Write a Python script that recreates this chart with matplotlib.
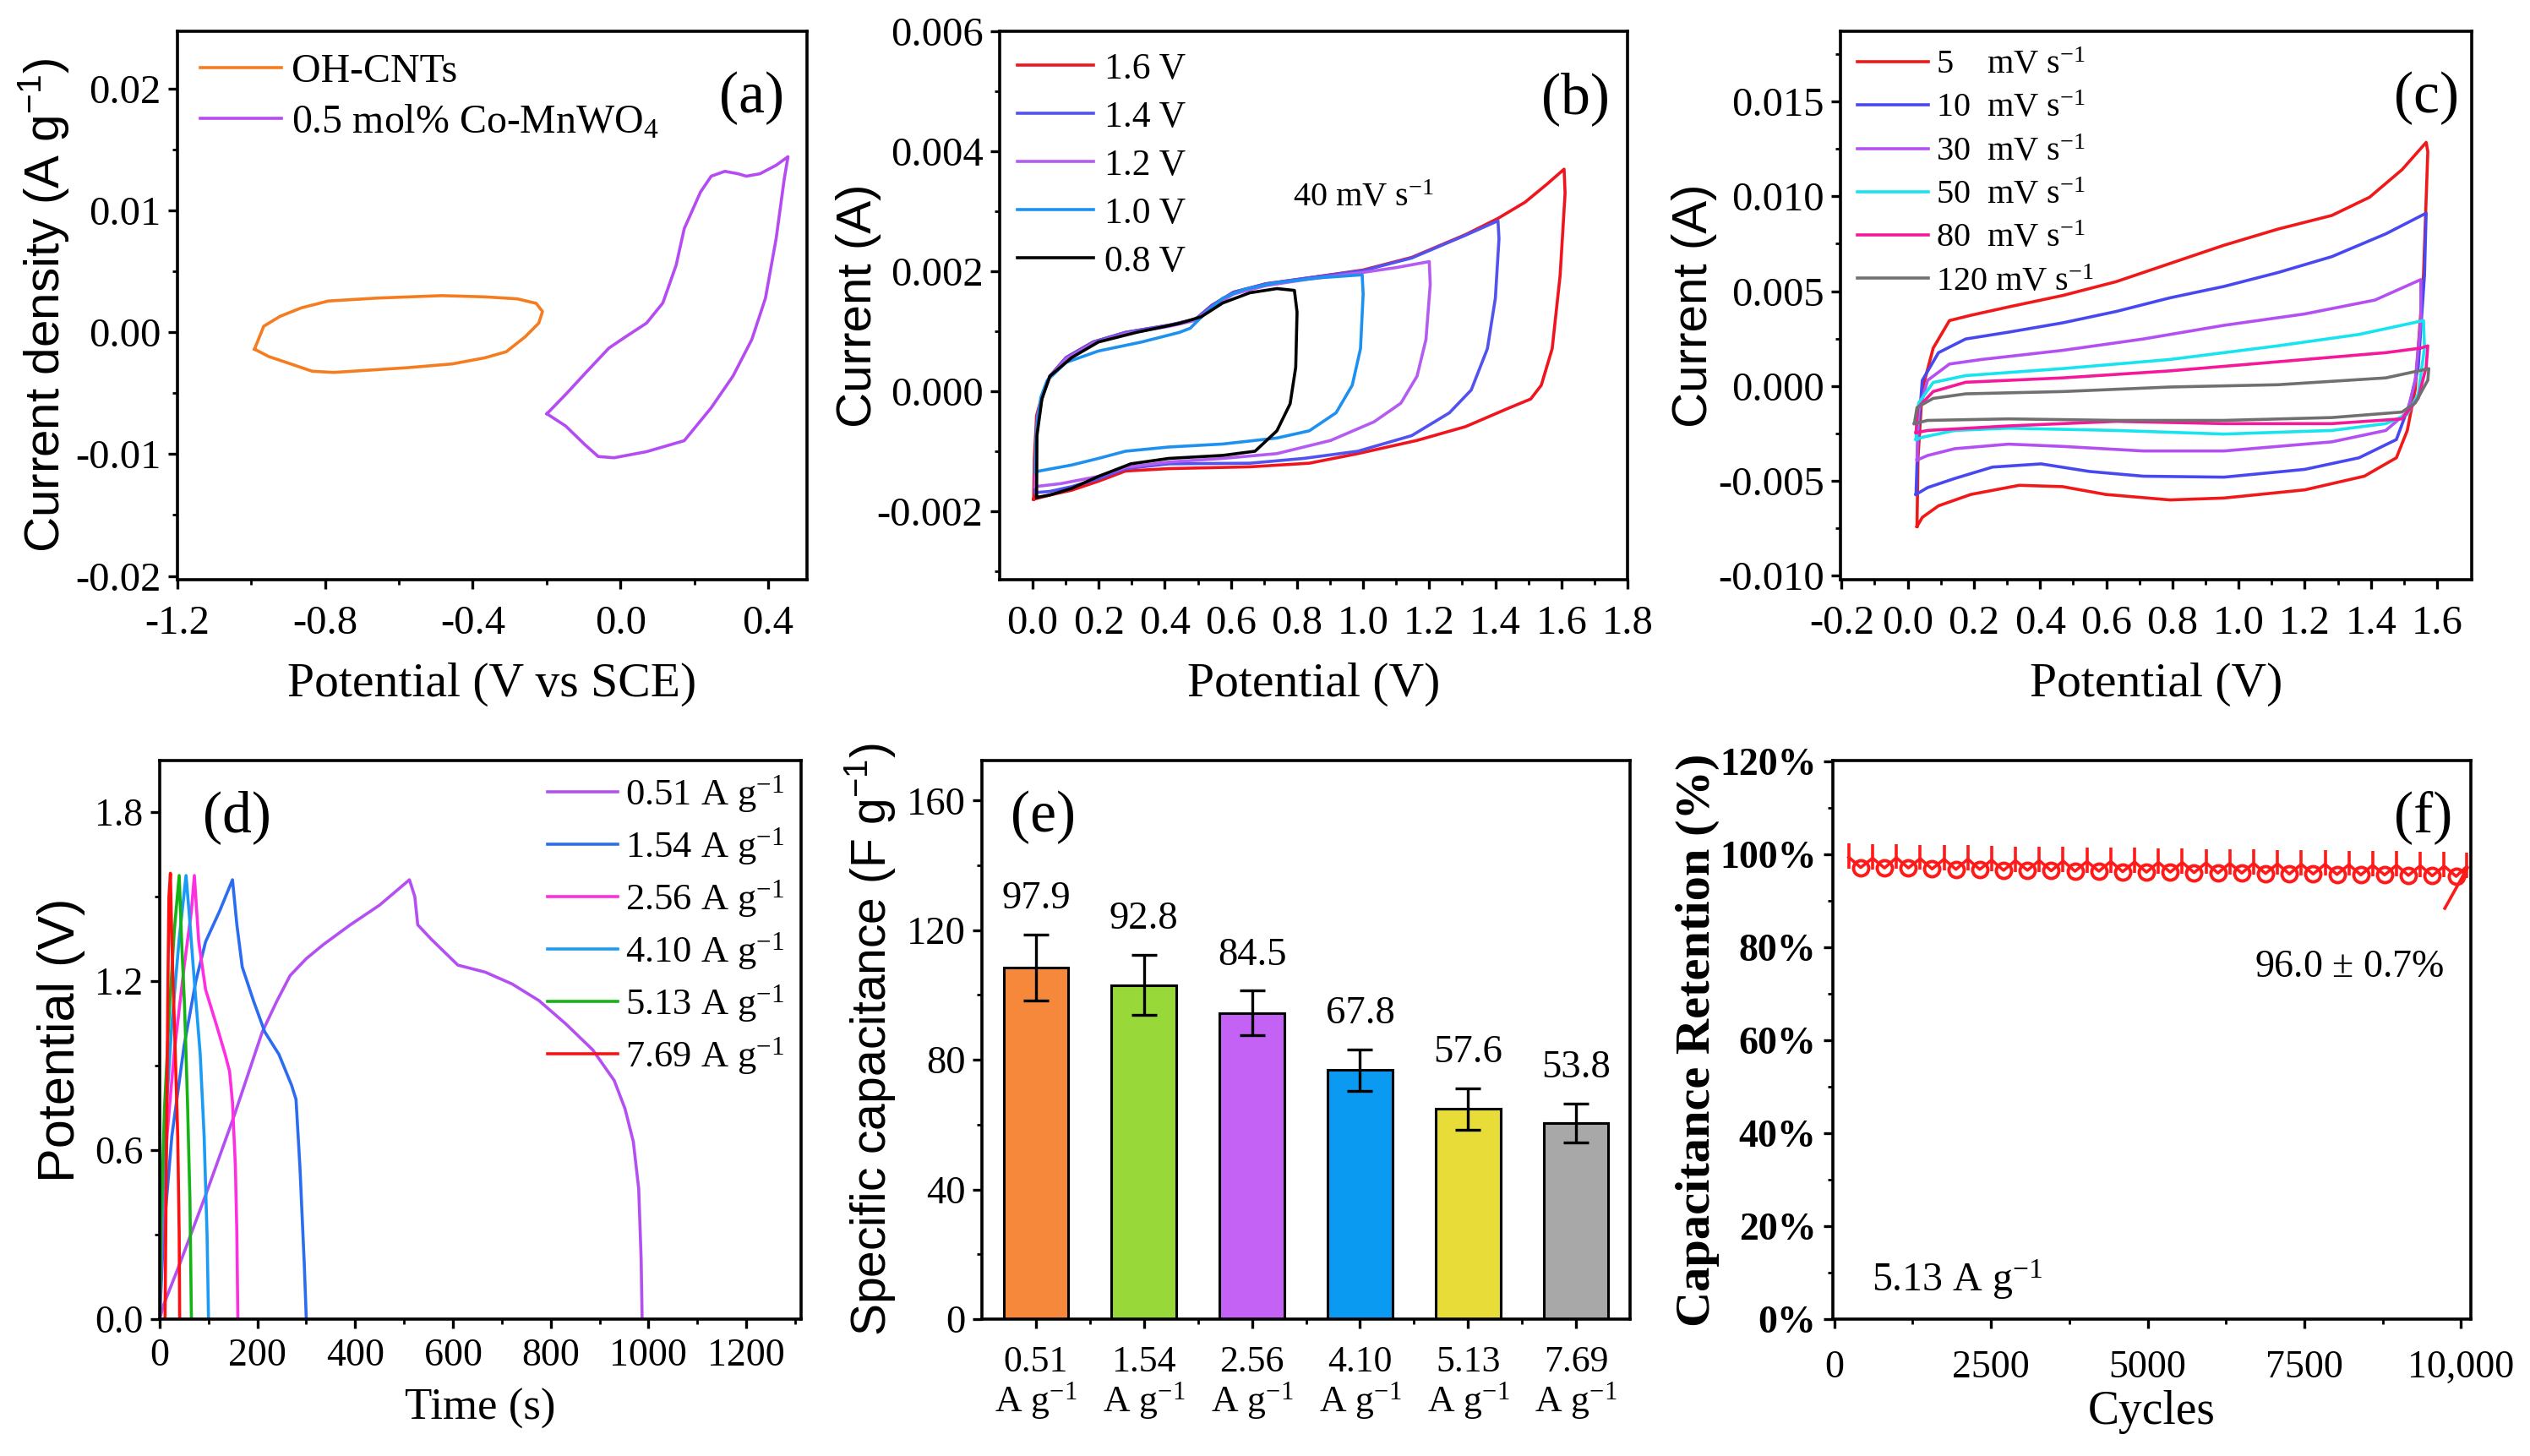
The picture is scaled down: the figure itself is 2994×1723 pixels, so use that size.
import matplotlib
matplotlib.use('Agg')
import matplotlib.pyplot as plt
from matplotlib.ticker import FixedLocator, FixedFormatter
import numpy as np

plt.rcParams['font.family'] = ['Liberation Serif', 'DejaVu Serif']
plt.rcParams['axes.unicode_minus'] = False
plt.rcParams['mathtext.default'] = 'regular'

SANS = ['Liberation Sans', 'DejaVu Sans']

# ---------------- data: panel (a) ----------------
cnt_E = [-0.991, -0.966, -0.922, -0.864, -0.791, -0.659, -0.484, -0.367, -0.28, -0.228, -0.211, -0.221,
         -0.258, -0.309, -0.367, -0.455, -0.572, -0.776, -0.835, -0.893, -0.952, -0.991]
cnt_J = [-0.00139, 0.00049, 0.0013, 0.002, 0.00256, 0.0028, 0.003, 0.0029, 0.00274, 0.00237, 0.0017, 0.00075,
         -0.00038, -0.0016, -0.0021, -0.0026, -0.0029, -0.0033, -0.0032, -0.0026, -0.002, -0.00139]
co_E = [-0.199, -0.148, -0.09, -0.031, 0.013, 0.071, 0.115, 0.151, 0.173, 0.217, 0.246, 0.283, 0.319, 0.341,
        0.378, 0.422, 0.454, 0.444, 0.422, 0.393, 0.356, 0.305, 0.246, 0.173, 0.071, -0.017, -0.06, -0.097,
        -0.148, -0.199]
co_J = [-0.00669, -0.0051, -0.0032, -0.0013, -0.0004, 0.00075, 0.0024, 0.0055, 0.0085, 0.0115, 0.0128, 0.0132,
        0.013, 0.0128, 0.013, 0.0137, 0.0144, 0.0126, 0.0077, 0.0028, -0.0006, -0.0036, -0.0062, -0.0089,
        -0.0098, -0.0103, -0.0102, -0.0092, -0.0077, -0.00669]
a_labels = ['OH-CNTs', '0.5 mol% Co-MnWO$_4$']

# ---------------- data: panel (b) ----------------
b_labels = ['1.6 V', '1.4 V', '1.2 V', '1.0 V', '0.8 V']
b16_E = [0.003, 0.005, 0.012, 0.03, 0.052, 0.101, 0.183, 0.281, 0.412, 0.493, 0.542, 0.608, 0.706, 0.837, 1.0,
         1.147, 1.31, 1.408, 1.49, 1.556, 1.608, 1.611, 1.596, 1.572, 1.539, 1.507, 1.441, 1.31, 1.163, 0.984,
         0.837, 0.657, 0.412, 0.281, 0.199, 0.118, 0.052, 0.003]
b16_I = [-0.0018, -0.00112, -0.0004, -0.00005, 0.00025, 0.00056, 0.00082, 0.00098, 0.0011, 0.0012, 0.00143,
         0.00165, 0.00179, 0.00189, 0.00202, 0.00223, 0.00261, 0.00288, 0.00315, 0.00345, 0.0037, 0.0033,
         0.00193, 0.00071, 0.0001, -0.00013, -0.00028, -0.00059, -0.00082, -0.00104, -0.0012, -0.00126,
         -0.00129, -0.00133, -0.0015, -0.00165, -0.00173, -0.0018]
b14_E = [0.007, 0.009, 0.015, 0.032, 0.052, 0.101, 0.183, 0.281, 0.412, 0.493, 0.542, 0.608, 0.706, 0.837, 1.0,
         1.147, 1.31, 1.408, 1.411, 1.40, 1.376, 1.327, 1.261, 1.147, 0.984, 0.82, 0.657, 0.412, 0.281, 0.199,
         0.118, 0.052, 0.007]
b14_I = [-0.00169, -0.0011, -0.0004, -0.00004, 0.00025, 0.00056, 0.00082, 0.00098, 0.0011, 0.0012, 0.00143,
         0.00165, 0.00179, 0.00189, 0.00201, 0.00222, 0.0026, 0.00284, 0.00254, 0.00155, 0.00071, 0.00002,
         -0.00036, -0.00074, -0.001, -0.00112, -0.0012, -0.00121, -0.00129, -0.00146, -0.00159, -0.00167,
         -0.00169]
b12_E = [0.007, 0.009, 0.015, 0.032, 0.052, 0.101, 0.183, 0.281, 0.412, 0.493, 0.542, 0.608, 0.706, 0.837, 1.0,
         1.1, 1.2, 1.203, 1.19, 1.163, 1.114, 1.033, 0.902, 0.739, 0.575, 0.412, 0.281, 0.199, 0.085, 0.007]
b12_I = [-0.00159, -0.0011, -0.0004, -0.00004, 0.00024, 0.00054, 0.0008, 0.00096, 0.00108, 0.00118, 0.0014,
         0.00162, 0.00176, 0.00187, 0.00198, 0.00206, 0.00216, 0.00178, 0.00086, 0.00025, -0.0002, -0.00051,
         -0.00082, -0.00104, -0.00112, -0.00118, -0.00127, -0.00142, -0.00154, -0.00159]
b10_E = [0.007, 0.012, 0.025, 0.044, 0.101, 0.199, 0.33, 0.444, 0.477, 0.526, 0.575, 0.641, 0.739, 0.869, 0.997,
         1.0, 0.992, 0.967, 0.918, 0.837, 0.739, 0.575, 0.412, 0.281, 0.199, 0.118, 0.02, 0.007]
b10_I = [-0.00135, -0.0006, -0.0001, 0.00018, 0.00048, 0.00067, 0.00082, 0.00098, 0.00105, 0.00132, 0.00155,
         0.0017, 0.00181, 0.00189, 0.00194, 0.00162, 0.00071, 0.0001, -0.00036, -0.00066, -0.00078, -0.00088,
         -0.00093, -0.001, -0.00112, -0.00123, -0.00133, -0.00135]
b08_E = [0.012, 0.013, 0.028, 0.052, 0.118, 0.199, 0.314, 0.444, 0.51, 0.575, 0.657, 0.739, 0.792, 0.8, 0.796,
         0.779, 0.739, 0.673, 0.575, 0.412, 0.297, 0.199, 0.118, 0.052, 0.012]
b08_I = [-0.00177, -0.00074, -0.00013, 0.00025, 0.00056, 0.00082, 0.00098, 0.00113, 0.00124, 0.00147, 0.00164,
         0.00171, 0.00168, 0.00132, 0.0004, -0.00021, -0.00066, -0.001, -0.00107, -0.00112, -0.00121, -0.00142,
         -0.00162, -0.00173, -0.00177]

# ---------------- data: panel (c) ----------------
c_labels = ['5    mV s$^{-1}$', '10  mV s$^{-1}$', '30  mV s$^{-1}$', '50  mV s$^{-1}$',
            '80  mV s$^{-1}$', '120 mV s$^{-1}$']
c5_E = [0.028, 0.031, 0.044, 0.077, 0.126, 0.191, 0.305, 0.468, 0.63, 0.793, 0.956, 1.119, 1.282, 1.396, 1.494,
        1.567, 1.572, 1.559, 1.534, 1.51, 1.477, 1.38, 1.2, 0.956, 0.793, 0.598, 0.468, 0.337, 0.191, 0.093,
        0.044, 0.028]
c5_I = [-0.0074, -0.0038, -0.00017, 0.002, 0.00345, 0.00373, 0.00417, 0.00477, 0.0055, 0.00646, 0.00742, 0.00827,
        0.00899, 0.00995, 0.0114, 0.01284, 0.01236, 0.00586, -0.00017, -0.00234, -0.00378, -0.00475, -0.00547,
        -0.0059, -0.006, -0.00571, -0.0053, -0.00523, -0.00571, -0.00631, -0.00692, -0.0074]
c10_E = [0.025, 0.031, 0.044, 0.093, 0.175, 0.305, 0.468, 0.63, 0.793, 0.956, 1.119, 1.282, 1.445, 1.567, 1.562,
         1.543, 1.518, 1.477, 1.364, 1.2, 0.956, 0.712, 0.549, 0.403, 0.256, 0.142, 0.06, 0.025]
c10_I = [-0.00571, -0.00258, 0.0003, 0.00176, 0.00248, 0.00284, 0.00333, 0.00393, 0.00465, 0.00525, 0.00598,
         0.00682, 0.00802, 0.00911, 0.00586, 0.001, -0.00089, -0.00282, -0.00378, -0.00439, -0.0048, -0.00475,
         -0.0045, -0.0041, -0.00427, -0.00487, -0.00535, -0.00571]
c30_E = [0.028, 0.033, 0.06, 0.126, 0.223, 0.468, 0.712, 0.956, 1.2, 1.412, 1.551, 1.551, 1.534, 1.51, 1.445,
         1.282, 0.956, 0.712, 0.468, 0.305, 0.142, 0.06, 0.028]
c30_I = [-0.0039, -0.00137, 0.0003, 0.00116, 0.0014, 0.00188, 0.00248, 0.0032, 0.0038, 0.00453, 0.00561, 0.00345,
         0.0003, -0.00137, -0.00234, -0.00294, -0.00342, -0.00342, -0.00318, -0.00306, -0.0033, -0.00366, -0.0039]
c50_E = [0.025, 0.033, 0.077, 0.175, 0.468, 0.793, 1.119, 1.364, 1.559, 1.562, 1.543, 1.51, 1.445, 1.282, 0.956,
         0.63, 0.305, 0.142, 0.044, 0.025]
c50_I = [-0.00282, -0.00089, 0.00019, 0.00055, 0.00092, 0.0014, 0.00212, 0.00272, 0.00345, 0.002, -0.00041,
         -0.0015, -0.00198, -0.00234, -0.00253, -0.00234, -0.00222, -0.00234, -0.0027, -0.00282]
c80_E = [0.025, 0.031, 0.077, 0.175, 0.468, 0.793, 1.119, 1.445, 1.551, 1.572, 1.567, 1.543, 1.494, 1.282, 0.956,
         0.63, 0.305, 0.06, 0.025]
c80_I = [-0.00246, -0.00113, -0.00029, 0.0002, 0.00043, 0.0008, 0.00128, 0.00176, 0.002, 0.00212, 0.001,
         -0.00065, -0.00173, -0.00198, -0.00198, -0.00186, -0.0021, -0.00234, -0.00246]
c120_E = [0.02, 0.028, 0.077, 0.175, 0.468, 0.793, 1.119, 1.445, 1.575, 1.572, 1.534, 1.494, 1.282, 0.956, 0.63,
          0.305, 0.06, 0.02]
c120_I = [-0.00198, -0.00113, -0.00065, -0.00041, -0.00029, -0.00005, 0.00007, 0.00043, 0.00092, 0.00031,
          -0.00089, -0.00137, -0.00166, -0.00181, -0.00181, -0.00173, -0.00181, -0.00198]

# ---------------- data: panel (d) ----------------
d_labels = ['0.51 A g$^{-1}$', '1.54 A g$^{-1}$', '2.56 A g$^{-1}$', '4.10 A g$^{-1}$', '5.13 A g$^{-1}$',
            '7.69 A g$^{-1}$']
d051_t = [0, 8, 42, 94, 152, 210, 240, 267, 300, 335, 390, 450, 511, 522, 528, 555, 610, 666, 721, 776, 831,
          886, 930, 952, 969, 980, 985, 987]
d051_V = [0.0, 0.05, 0.2, 0.44, 0.72, 1.02, 1.13, 1.22, 1.28, 1.33, 1.40, 1.47, 1.56, 1.50, 1.40, 1.35, 1.257,
          1.232, 1.19, 1.131, 1.048, 0.956, 0.847, 0.747, 0.63, 0.463, 0.212, 0.0]
d154_t = [0, 8, 25, 50, 74, 94, 123, 149, 158, 169, 192, 215, 244, 270, 279, 287, 296, 300]
d154_V = [0.0, 0.3, 0.65, 0.97, 1.2, 1.34, 1.45, 1.56, 1.40, 1.25, 1.13, 1.02, 0.94, 0.83, 0.78, 0.54, 0.19, 0.0]
d256_t = [0, 5, 15, 30, 50, 65, 71, 80, 94, 117, 134, 143, 149, 155, 158, 160]
d256_V = [0.0, 0.3, 0.65, 0.95, 1.25, 1.45, 1.575, 1.34, 1.17, 1.04, 0.94, 0.88, 0.77, 0.54, 0.3, 0.0]
d410_t = [0, 4, 12, 25, 40, 54, 60, 71, 83, 91, 97, 100]
d410_V = [0.0, 0.3, 0.7, 1.05, 1.35, 1.575, 1.45, 1.2, 0.94, 0.65, 0.3, 0.0]
d513_t = [0, 3, 10, 20, 30, 40, 45, 51, 57, 62, 65]
d513_V = [0.0, 0.35, 0.75, 1.1, 1.38, 1.575, 1.34, 1.11, 0.77, 0.42, 0.0]
d769_t = [11, 14, 17, 19, 22, 25, 31, 37, 40, 41]
d769_V = [0.0, 0.6, 1.2, 1.5, 1.583, 1.34, 1.0, 0.65, 0.3, 0.0]

# ---------------- data: panel (e) ----------------
e_cats = ['0.51\nA g$^{-1}$', '1.54\nA g$^{-1}$', '2.56\nA g$^{-1}$', '4.10\nA g$^{-1}$', '5.13\nA g$^{-1}$',
          '7.69\nA g$^{-1}$']
e_vals = [108.5, 103.1, 94.5, 76.8, 64.8, 60.5]
e_errs = [10.2, 9.2, 6.8, 6.4, 6.3, 5.9]
e_text = ['97.9', '92.8', '84.5', '67.8', '57.6', '53.8']

# ---------------- data: panel (f) ----------------
f_spike_cyc = [230, 610, 990, 1370, 1750, 2130, 2510, 2890, 3270, 3650, 4030, 4410, 4790, 5170, 5550, 5930,
               6310, 6690, 7070, 7450, 7830, 8210, 8590, 8970, 9350, 9730, 10090]
f_spike_ret = [99.4, 99.2, 99.3, 99.1, 99.0, 99.0, 98.8, 98.7, 98.7, 98.6, 98.5, 98.5, 98.4, 98.3, 98.3, 98.2,
               98.1, 98.1, 98.0, 97.9, 97.9, 97.8, 97.7, 97.7, 97.6, 97.5, 97.4]
f_loop_cyc = [420, 800, 1180, 1560, 1940, 2320, 2700, 3080, 3460, 3840, 4220, 4600, 4980, 5360, 5740, 6120,
              6500, 6880, 7260, 7640, 8020, 8400, 8780, 9160, 9540, 9920]
f_loop_ret = [97.2, 97.1, 97.1, 96.9, 96.8, 96.8, 96.6, 96.6, 96.5, 96.4, 96.4, 96.3, 96.2, 96.2, 96.1, 96.0,
              96.0, 95.9, 95.8, 95.8, 95.7, 95.6, 95.6, 95.5, 95.4, 95.3]
f_err_low = 2.4
f_err_high = 3.0
f_tail_cyc = [9740, 10100]
f_tail_ret = [88.4, 97.1]

# ---------------- figure ----------------
fig = plt.figure(figsize=(29.94, 17.23), dpi=100)

ax_a = fig.add_axes([0.0701, 0.6019, 0.2488, 0.3767])
ax_b = fig.add_axes([0.3951, 0.6019, 0.2482, 0.3767])
ax_c = fig.add_axes([0.7275, 0.6019, 0.2495, 0.3767])
ax_d = fig.add_axes([0.0631, 0.0940, 0.2535, 0.3836])
ax_e = fig.add_axes([0.3881, 0.0940, 0.2562, 0.3836])
ax_f = fig.add_axes([0.7244, 0.0940, 0.2522, 0.3836])

LW = 2.6


def style(ax, fs, xpad=8, ypad=6):
    for s in ax.spines.values():
        s.set_linewidth(2.6)
    ax.tick_params(which='major', direction='out', length=8, width=2.4, labelsize=fs, top=False, right=False)
    ax.tick_params(which='minor', direction='out', length=4.5, width=2.0, top=False, right=False)
    ax.tick_params(axis='x', which='major', pad=xpad)
    ax.tick_params(axis='y', which='major', pad=ypad)


def set_ticks(ax, axis, major, labels, minor):
    a = ax.xaxis if axis == 'x' else ax.yaxis
    a.set_major_locator(FixedLocator(major))
    a.set_major_formatter(FixedFormatter(labels))
    a.set_minor_locator(FixedLocator(minor))


# ---- (a)
ax = ax_a
ax.plot(cnt_E, cnt_J, color='#F57C1F', lw=LW, label=a_labels[0], solid_joinstyle='round')
ax.plot(co_E, co_J, color='#B54CF2', lw=LW, label=a_labels[1], solid_joinstyle='round')
ax.set_xlim(-1.2, 0.505)
ax.set_ylim(-0.0203, 0.0247)
style(ax, 35, xpad=14)
set_ticks(ax, 'x', [-1.2, -0.8, -0.4, 0.0, 0.4], ['-1.2', '-0.8', '-0.4', '0.0', '0.4'],
          [-1.0, -0.6, -0.2, 0.2])
set_ticks(ax, 'y', [-0.02, -0.01, 0.0, 0.01, 0.02], ['-0.02', '-0.01', '0.00', '0.01', '0.02'],
          [-0.015, -0.005, 0.005, 0.015])
ax.set_xlabel('Potential (V vs SCE)', fontsize=41.5, labelpad=17)
ax.set_ylabel('Current density (A g$^{-1}$)', fontsize=42, family=SANS, labelpad=4)
ax.legend(loc='upper left', bbox_to_anchor=(0.036, 0.96), frameon=False, fontsize=34.5,
          handlelength=2.0, handletextpad=0.25, labelspacing=0.33, borderpad=0, borderaxespad=0)
ax.text(0.913, 0.877, '(a)', transform=ax.transAxes, fontsize=50, ha='center', va='center')

# ---- (b)
ax = ax_b
b_series = [(b16_E, b16_I, '#F0141E'), (b14_E, b14_I, '#5252EE'), (b12_E, b12_I, '#B45CF2'),
            (b10_E, b10_I, '#1E90F0'), (b08_E, b08_I, '#000000')]
for (E, I, col), lab in zip(b_series, b_labels):
    ax.plot(E, I, color=col, lw=LW, label=lab, solid_joinstyle='round')
ax.set_xlim(-0.1, 1.8)
ax.set_ylim(-0.00314, 0.006)
style(ax, 35, xpad=14)
set_ticks(ax, 'x', [0.0, 0.2, 0.4, 0.6, 0.8, 1.0, 1.2, 1.4, 1.6, 1.8],
          ['0.0', '0.2', '0.4', '0.6', '0.8', '1.0', '1.2', '1.4', '1.6', '1.8'],
          [0.1, 0.3, 0.5, 0.7, 0.9, 1.1, 1.3, 1.5, 1.7])
set_ticks(ax, 'y', [-0.002, 0.0, 0.002, 0.004, 0.006], ['-0.002', '0.000', '0.002', '0.004', '0.006'],
          [-0.003, -0.001, 0.001, 0.003, 0.005])
ax.set_xlabel('Potential (V)', fontsize=41.5, labelpad=17)
ax.set_ylabel('Current (A)', fontsize=42, family=SANS, labelpad=-4)
ax.legend(loc='upper left', bbox_to_anchor=(0.028, 0.962), frameon=False, fontsize=31.4,
          handlelength=2.06, handletextpad=0.3, labelspacing=0.39, borderpad=0, borderaxespad=0)
ax.text(1.0, 0.00322, '40 mV s$^{-1}$', fontsize=29, ha='center', va='center')
ax.text(0.917, 0.877, '(b)', transform=ax.transAxes, fontsize=50, ha='center', va='center')

# ---- (c)
ax = ax_c
c_series = [(c5_E, c5_I, '#F01818'), (c10_E, c10_I, '#4848F0'), (c30_E, c30_I, '#B450F2'),
            (c50_E, c50_I, '#18E4F0'), (c80_E, c80_I, '#F5189A'), (c120_E, c120_I, '#707070')]
for (E, I, col), lab in zip(c_series, c_labels):
    ax.plot(E, I, color=col, lw=LW, label=lab, solid_joinstyle='round')
ax.set_xlim(-0.203, 1.705)
ax.set_ylim(-0.0102, 0.0187)
style(ax, 35, xpad=14)
set_ticks(ax, 'x', [-0.2, 0.0, 0.2, 0.4, 0.6, 0.8, 1.0, 1.2, 1.4, 1.6],
          ['-0.2', '0.0', '0.2', '0.4', '0.6', '0.8', '1.0', '1.2', '1.4', '1.6'],
          [-0.1, 0.1, 0.3, 0.5, 0.7, 0.9, 1.1, 1.3, 1.5])
set_ticks(ax, 'y', [-0.01, -0.005, 0.0, 0.005, 0.01, 0.015],
          ['-0.010', '-0.005', '0.000', '0.005', '0.010', '0.015'],
          [-0.0075, -0.0025, 0.0025, 0.0075, 0.0125, 0.0175])
ax.set_xlabel('Potential (V)', fontsize=41.5, labelpad=17)
ax.set_ylabel('Current (A)', fontsize=42, family=SANS, labelpad=1)
ax.legend(loc='upper left', bbox_to_anchor=(0.027, 0.966), frameon=False, fontsize=29,
          handlelength=2.07, handletextpad=0.24, labelspacing=0.35, borderpad=0, borderaxespad=0)
ax.text(0.928, 0.877, '(c)', transform=ax.transAxes, fontsize=50, ha='center', va='center')

# ---- (d)
ax = ax_d
d_series = [(d051_t, d051_V, '#B450F2'), (d154_t, d154_V, '#2B6CF0'), (d256_t, d256_V, '#FF2EE0'),
            (d410_t, d410_V, '#1A9BF5'), (d513_t, d513_V, '#14B414'), (d769_t, d769_V, '#FF1010')]
for (t, V, col), lab in zip(d_series, d_labels):
    ax.plot(t, V, color=col, lw=LW, label=lab, solid_joinstyle='round')
ax.set_xlim(0, 1312)
ax.set_ylim(0, 1.983)
style(ax, 33)
set_ticks(ax, 'x', [0, 200, 400, 600, 800, 1000, 1200], ['0', '200', '400', '600', '800', '1000', '1200'],
          [100, 300, 500, 700, 900, 1100, 1300])
set_ticks(ax, 'y', [0.0, 0.6, 1.2, 1.8], ['0.0', '0.6', '1.2', '1.8'], [0.3, 0.9, 1.5])
ax.set_xlabel('Time (s)', fontsize=38, labelpad=12)
ax.set_ylabel('Potential (V)', fontsize=44, family=SANS, labelpad=8)
ax.legend(loc='upper right', bbox_to_anchor=(0.974, 0.977), frameon=False, fontsize=32,
          handlelength=1.87, handletextpad=0.21, labelspacing=0.3, borderpad=0, borderaxespad=0)
ax.text(0.121, 0.899, '(d)', transform=ax.transAxes, fontsize=50, ha='center', va='center')

# ---- (e)
ax = ax_e
e_colors = ['#F5883A', '#98D838', '#C462F5', '#0A9AF2', '#E8DC38', '#A8A8A8']
xpos = np.arange(len(e_vals))
ax.bar(xpos, e_vals, width=0.6, color=e_colors, edgecolor='black', linewidth=2.2, zorder=2)
ax.errorbar(xpos, e_vals, yerr=e_errs, fmt='none', ecolor='black', elinewidth=2.4, capsize=10.5,
            capthick=2.4, zorder=3)
for xi, v, er, tx in zip(xpos, e_vals, e_errs, e_text):
    ax.text(xi, v + er + 11, tx, fontsize=33.6, ha='center', va='center')
ax.set_xlim(-0.5, 5.5)
ax.set_ylim(0, 172.3)
style(ax, 33.6, xpad=14)
set_ticks(ax, 'x', list(xpos), e_cats, [0.5, 1.5, 2.5, 3.5, 4.5])
ax.tick_params(axis='x', which='major', labelsize=31.5)
for lbl in ax.get_xticklabels():
    lbl.set_linespacing(1.05)
set_ticks(ax, 'y', [0, 40, 80, 120, 160], ['0', '40', '80', '120', '160'], [20, 60, 100, 140])
ax.set_ylabel('Specific capacitance (F g$^{-1}$)', fontsize=41, family=SANS, labelpad=8)
ax.text(0.095, 0.899, '(e)', transform=ax.transAxes, fontsize=50, ha='center', va='center')

# ---- (f)
ax = ax_f
red = '#FF1A1A'
all_cyc = sorted(f_spike_cyc + f_loop_cyc)
lookup = dict(zip(f_spike_cyc, f_spike_ret))
lookup.update(dict(zip(f_loop_cyc, f_loop_ret)))
ax.plot(all_cyc, [lookup[c] for c in all_cyc], color=red, lw=2.6)
ax.errorbar(f_spike_cyc, f_spike_ret, yerr=[[f_err_low] * len(f_spike_cyc), [f_err_high] * len(f_spike_cyc)],
            fmt='none', ecolor=red, elinewidth=2.6, capsize=0)
ax.plot(f_loop_cyc, f_loop_ret, 'o', ms=13, mfc='none', mec=red, mew=2.8)
ax.plot(f_tail_cyc, f_tail_ret, color=red, lw=2.6)
ax.set_xlim(-26, 10155)
ax.set_ylim(0, 120.2)
style(ax, 33, xpad=18)
set_ticks(ax, 'x', [0, 2500, 5000, 7500, 10000], ['0', '2500', '5000', '7500', '10,000'],
          [1250, 3750, 6250, 8750])
set_ticks(ax, 'y', [0, 20, 40, 60, 80, 100, 120], ['0%', '20%', '40%', '60%', '80%', '100%', '120%'],
          [10, 30, 50, 70, 90, 110])
for lbl in ax.get_yticklabels():
    lbl.set_fontweight('bold')
ax.set_xlabel('Cycles', fontsize=40, labelpad=4)
ax.set_ylabel('Capacitance Retention (%)', fontsize=42, fontweight='bold', labelpad=0)
ax.text(8216, 75.7, '96.0 $\\pm$ 0.7%', fontsize=33, ha='center', va='center')
ax.text(590, 8.5, '5.13 A g$^{-1}$', fontsize=34.5, ha='left', va='center')
ax.text(0.926, 0.899, '(f)', transform=ax.transAxes, fontsize=50, ha='center', va='center')

fig.savefig('out.png', dpi=100)
